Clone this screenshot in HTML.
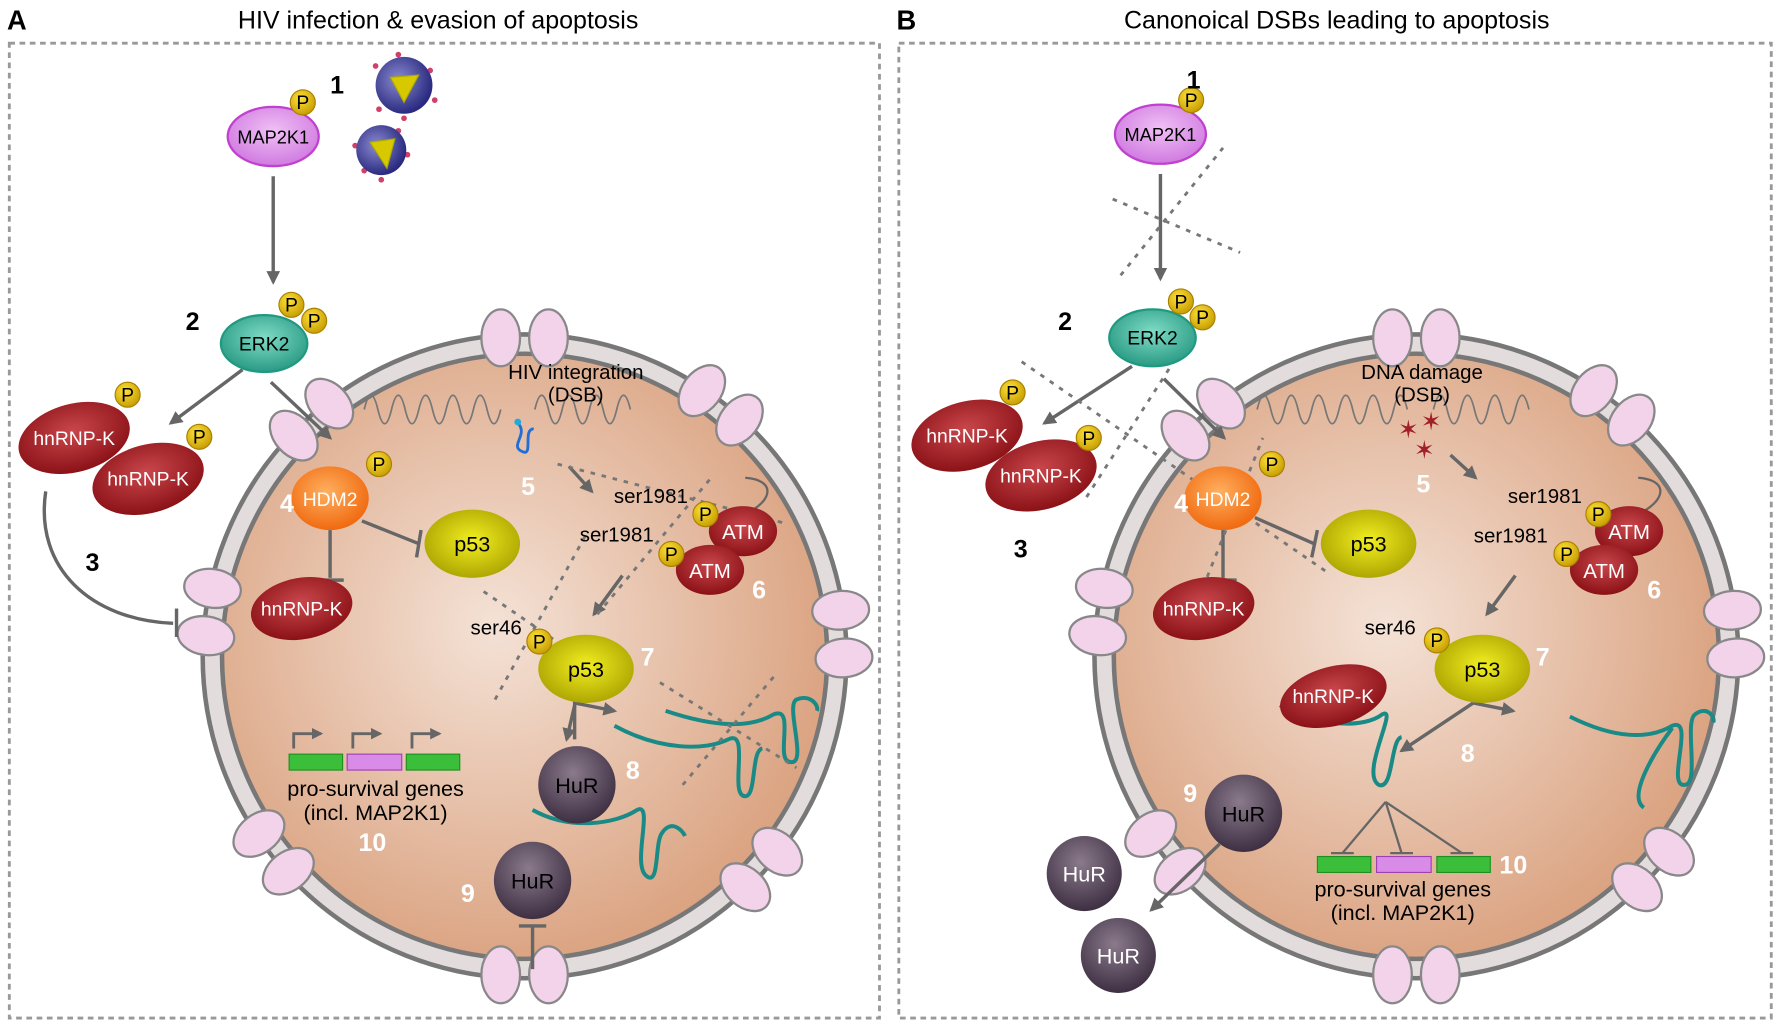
<!DOCTYPE html>
<html><head><meta charset="utf-8"><style>
html,body{margin:0;padding:0;background:#fff}
svg{display:block}
text{font-family:"Liberation Sans",sans-serif}
</style></head><body>
<svg width="1784" height="1026" viewBox="0 0 1568 902" xmlns="http://www.w3.org/2000/svg">
<defs>
<radialGradient id="nuc" cx="0.45" cy="0.45" r="0.6"><stop offset="0" stop-color="#f4e2d6"/><stop offset="1" stop-color="#d99f7c"/></radialGradient>
<radialGradient id="p" cx="0.4" cy="0.35" r="0.7"><stop offset="0" stop-color="#ffe23a"/><stop offset="1" stop-color="#c49a00"/></radialGradient>
<radialGradient id="red" cx="0.5" cy="0.4" r="0.6"><stop offset="0" stop-color="#c9474c"/><stop offset="1" stop-color="#8a1116"/></radialGradient>
<radialGradient id="olive" cx="0.5" cy="0.45" r="0.6"><stop offset="0" stop-color="#f2ef20"/><stop offset="1" stop-color="#a8a000"/></radialGradient>
<radialGradient id="hur" cx="0.45" cy="0.35" r="0.65"><stop offset="0" stop-color="#8a7a8c"/><stop offset="1" stop-color="#3e2f42"/></radialGradient>
<radialGradient id="teal" cx="0.5" cy="0.4" r="0.6"><stop offset="0" stop-color="#7fdcc6"/><stop offset="1" stop-color="#2a9a84"/></radialGradient>
<radialGradient id="vio" cx="0.5" cy="0.4" r="0.6"><stop offset="0" stop-color="#f0c0f5"/><stop offset="1" stop-color="#d07ae0"/></radialGradient>
<radialGradient id="org" cx="0.45" cy="0.4" r="0.6"><stop offset="0" stop-color="#ffb060"/><stop offset="1" stop-color="#f06a10"/></radialGradient>
<radialGradient id="vir" cx="0.4" cy="0.4" r="0.6"><stop offset="0" stop-color="#8a8ad0"/><stop offset="1" stop-color="#2a2a80"/></radialGradient>
<marker id="ar" viewBox="0 0 10 10" refX="8" refY="5" markerWidth="4" markerHeight="4" orient="auto"><path d="M0,0 L10,5 L0,10 z" fill="#666"/></marker>
<g id="pore"><ellipse cx="-21" cy="0" rx="17" ry="25" fill="#f3d3ea" stroke="#888" stroke-width="2"/><ellipse cx="21" cy="0" rx="17" ry="25" fill="#f3d3ea" stroke="#888" stroke-width="2"/></g>
<g id="P"><circle r="11" fill="url(#p)" stroke="#a88000" stroke-width="1"/><text y="6" text-anchor="middle" font-size="17">P</text></g>
</defs>

<text x="6" y="26" font-size="24" font-weight="bold">A</text>
<text x="385" y="25" font-size="22" text-anchor="middle">HIV infection &amp; evasion of apoptosis</text>
<rect x="8" y="38" width="765" height="857" fill="none" stroke="#999" stroke-width="2.5" stroke-dasharray="5,4"/>
<text x="788" y="26" font-size="24" font-weight="bold">B</text>
<text x="1175" y="25" font-size="22" text-anchor="middle">Canonoical DSBs leading to apoptosis</text>
<rect x="790" y="38" width="767" height="857" fill="none" stroke="#999" stroke-width="2.5" stroke-dasharray="5,4"/>

<circle cx="461" cy="577" r="283" fill="#e3dcdc" stroke="#777" stroke-width="4"/>
<circle cx="461" cy="577" r="266" fill="url(#nuc)" stroke="#777" stroke-width="4"/>
<circle cx="1245" cy="577" r="283" fill="#e3dcdc" stroke="#777" stroke-width="4"/>
<circle cx="1245" cy="577" r="266" fill="url(#nuc)" stroke="#777" stroke-width="4"/>

<g transform="translate(461,577)">
<use href="#pore" transform="rotate(0) translate(0,-280)"/>
<use href="#pore" transform="rotate(38) translate(0,-280)"/>
<use href="#pore" transform="rotate(-42) translate(0,-280)"/>
<use href="#pore" transform="rotate(-82) translate(0,-280)"/>
<use href="#pore" transform="rotate(86) translate(0,-280)"/>
<use href="#pore" transform="rotate(132) translate(0,-280)"/>
<use href="#pore" transform="rotate(180) translate(0,-280)"/>
<use href="#pore" transform="rotate(-128) translate(0,-280)"/>
</g>
<g transform="translate(1245,577)">
<use href="#pore" transform="rotate(0) translate(0,-280)"/>
<use href="#pore" transform="rotate(38) translate(0,-280)"/>
<use href="#pore" transform="rotate(-42) translate(0,-280)"/>
<use href="#pore" transform="rotate(-82) translate(0,-280)"/>
<use href="#pore" transform="rotate(86) translate(0,-280)"/>
<use href="#pore" transform="rotate(132) translate(0,-280)"/>
<use href="#pore" transform="rotate(180) translate(0,-280)"/>
<use href="#pore" transform="rotate(-128) translate(0,-280)"/>
</g>

<!-- ===== A ===== -->
<g stroke="#666" stroke-width="3" fill="none">
<line x1="240" y1="155" x2="240" y2="248" marker-end="url(#ar)"/>
<line x1="213" y1="325" x2="150" y2="372" marker-end="url(#ar)"/>
<line x1="238" y1="336" x2="290" y2="385" marker-end="url(#ar)"/>
<path d="M40,432 C30,500 80,545 152,548"/>
<line x1="155" y1="535" x2="155" y2="560"/>
<line x1="318" y1="458" x2="368" y2="478"/>
<line x1="370" y1="466" x2="366" y2="490"/>
<line x1="290" y1="466" x2="290" y2="508"/>
<line x1="278" y1="510" x2="302" y2="510"/>
<line x1="500" y1="410" x2="520" y2="432" marker-end="url(#ar)"/>
<line x1="547" y1="506" x2="522" y2="540" marker-end="url(#ar)"/>
<path d="M612,488 C595,520 640,525 650,495" stroke-width="2" marker-start="url(#ar)"/>
<path d="M655,452 C680,440 682,422 655,420" stroke-width="2" marker-start="url(#ar)"/>
<path d="M505,650 L505,618 L540,625" marker-end="url(#ar)"/>
<path d="M505,620 L498,650" marker-end="url(#ar)"/>
<line x1="468" y1="852" x2="468" y2="814"/>
<line x1="456" y1="814" x2="480" y2="814"/>
</g>
<g stroke="#666" stroke-width="2.5" fill="none">
<path d="M258,658 V645 H282" marker-end="url(#ar)"/>
<path d="M310,658 V645 H334" marker-end="url(#ar)"/>
<path d="M362,658 V645 H386" marker-end="url(#ar)"/>
</g>
<rect x="254" y="663" width="47" height="14" fill="#3bbf3b" stroke="#1f8f1f"/>
<rect x="305" y="663" width="48" height="14" fill="#d98be8" stroke="#a040b0"/>
<rect x="357" y="663" width="47" height="14" fill="#3bbf3b" stroke="#1f8f1f"/>
<text x="330" y="700" font-size="19" text-anchor="middle">pro-survival genes</text>
<text x="330" y="721" font-size="19" text-anchor="middle">(incl. MAP2K1)</text>

<path d="M320,360 q6,-25 12,0 q6,25 12,0 q6,-25 12,0 q6,25 12,0 q6,-25 12,0 q6,25 12,0 q6,-25 12,0 q6,25 12,0 q6,-25 12,0 q6,25 12,0" fill="none" stroke="#777" stroke-width="1.5"/>
<path d="M470,360 q6,-25 12,0 q6,25 12,0 q6,-25 12,0 q6,25 12,0 q6,-25 12,0 q6,25 12,0 q6,-25 12,0" fill="none" stroke="#777" stroke-width="1.5"/>
<path d="M455,372 c10,10 -8,20 4,25 c10,5 0,-20 10,-20" fill="none" stroke="#1f6fd6" stroke-width="2.5"/>
<circle cx="455" cy="371" r="3" fill="#2ad"/>
<text x="506" y="333" font-size="18" text-anchor="middle">HIV integration</text>
<text x="506" y="353" font-size="18" text-anchor="middle">(DSB)</text>

<g stroke="#1a8a86" stroke-width="3.5" fill="none">
<path d="M468,712 C500,730 540,725 560,712 C575,705 555,760 568,770 C580,780 575,740 582,732 C590,720 600,730 602,735"/>
<path d="M585,625 C630,640 660,640 680,628 C700,620 680,670 695,670 C710,672 690,620 700,615 C712,610 720,620 718,625"/>
<path d="M540,638 C580,660 620,660 640,650 C660,640 640,700 655,700 C665,700 660,660 670,658"/>
</g>

<g stroke="#777" stroke-width="2.5" stroke-dasharray="4,6" fill="none">
<line x1="490" y1="408" x2="690" y2="460"/>
<line x1="525" y1="540" x2="625" y2="420"/>
<line x1="425" y1="520" x2="530" y2="592"/>
<line x1="435" y1="615" x2="515" y2="470"/>
<line x1="580" y1="600" x2="700" y2="675"/>
<line x1="600" y1="690" x2="680" y2="595"/>
</g>

<g fill="#d0406a">
<circle cx="330" cy="58" r="2.5"/><circle cx="378" cy="62" r="2.5"/><circle cx="382" cy="88" r="2.5"/><circle cx="355" cy="104" r="2.5"/><circle cx="333" cy="96" r="2.5"/><circle cx="350" cy="48" r="2.5"/>
<circle cx="312" cy="128" r="2.5"/><circle cx="358" cy="136" r="2.5"/><circle cx="335" cy="158" r="2.5"/><circle cx="320" cy="150" r="2.5"/><circle cx="350" cy="115" r="2.5"/>
</g>
<circle cx="355" cy="75" r="25" fill="url(#vir)"/><path d="M343,68 L368,66 L355,90 z" fill="#d8c800" stroke="#aa0" />
<circle cx="335" cy="132" r="22" fill="url(#vir)"/><path d="M325,125 L347,122 L340,148 z" fill="#d8c800" stroke="#aa0"/>
<text x="290" y="82" font-size="22" font-weight="bold">1</text>
<ellipse cx="240" cy="120" rx="40" ry="26" fill="url(#vio)" stroke="#c040d0" stroke-width="2"/>
<text x="240" y="126" font-size="16" text-anchor="middle">MAP2K1</text>
<use href="#P" x="266" y="90"/>
<text x="163" y="290" font-size="22" font-weight="bold">2</text>
<ellipse cx="232" cy="302" rx="38" ry="25" fill="url(#teal)" stroke="#1f9a80" stroke-width="2"/>
<text x="232" y="308" font-size="17" text-anchor="middle">ERK2</text>
<use href="#P" x="256" y="268"/><use href="#P" x="276" y="282"/>
<ellipse cx="65" cy="385" rx="50" ry="30" transform="rotate(-15 65 385)" fill="url(#red)"/>
<text x="65" y="391" font-size="17" fill="#fff" text-anchor="middle">hnRNP-K</text>
<use href="#P" x="112" y="347"/>
<ellipse cx="130" cy="421" rx="50" ry="30" transform="rotate(-15 130 421)" fill="url(#red)"/>
<text x="130" y="427" font-size="17" fill="#fff" text-anchor="middle">hnRNP-K</text>
<use href="#P" x="175" y="384"/>
<text x="75" y="502" font-size="22" font-weight="bold">3</text>
<ellipse cx="290" cy="438" rx="34" ry="28" fill="url(#org)"/>
<text x="290" y="445" font-size="17" fill="#fff" text-anchor="middle">HDM2</text>
<use href="#P" x="333" y="408"/>
<text x="246" y="450" font-size="22" font-weight="bold" fill="#fff">4</text>
<ellipse cx="415" cy="478" rx="42" ry="30" fill="url(#olive)"/>
<text x="415" y="485" font-size="19" text-anchor="middle">p53</text>
<ellipse cx="265" cy="535" rx="45" ry="27" transform="rotate(-10 265 535)" fill="url(#red)"/>
<text x="265" y="541" font-size="17" fill="#fff" text-anchor="middle">hnRNP-K</text>
<text x="458" y="435" font-size="22" font-weight="bold" fill="#fff">5</text>
<text x="572" y="442" font-size="18" text-anchor="middle">ser1981</text>
<text x="542" y="476" font-size="18" text-anchor="middle">ser1981</text>
<ellipse cx="653" cy="467" rx="30" ry="22" fill="url(#red)"/>
<text x="653" y="474" font-size="18" fill="#fff" text-anchor="middle">ATM</text>
<ellipse cx="624" cy="501" rx="30" ry="22" fill="url(#red)"/>
<text x="624" y="508" font-size="18" fill="#fff" text-anchor="middle">ATM</text>
<use href="#P" x="620" y="452"/><use href="#P" x="590" y="487"/>
<text x="661" y="526" font-size="22" font-weight="bold" fill="#fff">6</text>
<text x="436" y="558" font-size="18" text-anchor="middle">ser46</text>
<ellipse cx="515" cy="588" rx="42" ry="30" fill="url(#olive)"/>
<text x="515" y="595" font-size="19" text-anchor="middle">p53</text>
<use href="#P" x="474" y="564"/>
<text x="563" y="585" font-size="22" font-weight="bold" fill="#fff">7</text>
<circle cx="507" cy="690" r="34" fill="url(#hur)"/>
<text x="507" y="697" font-size="19" text-anchor="middle">HuR</text>
<text x="550" y="685" font-size="22" font-weight="bold" fill="#fff">8</text>
<circle cx="468" cy="774" r="34" fill="url(#hur)"/>
<text x="468" y="781" font-size="19" text-anchor="middle">HuR</text>
<text x="405" y="793" font-size="22" font-weight="bold" fill="#fff">9</text>
<text x="315" y="748" font-size="22" font-weight="bold" fill="#fff">10</text>

<!-- ===== B ===== -->
<g stroke="#666" stroke-width="3" fill="none">
<line x1="1020" y1="153" x2="1020" y2="245" marker-end="url(#ar)"/>
<line x1="995" y1="322" x2="918" y2="372" marker-end="url(#ar)"/>
<line x1="1023" y1="333" x2="1076" y2="385" marker-end="url(#ar)"/>
<line x1="1103" y1="455" x2="1155" y2="478"/>
<line x1="1158" y1="466" x2="1153" y2="490"/>
<line x1="1075" y1="466" x2="1075" y2="508"/>
<line x1="1063" y1="510" x2="1087" y2="510"/>
<line x1="1275" y1="400" x2="1297" y2="420" marker-end="url(#ar)"/>
<line x1="1332" y1="506" x2="1307" y2="540" marker-end="url(#ar)"/>
<path d="M1398,488 C1380,520 1425,525 1435,495" stroke-width="2" marker-start="url(#ar)"/>
<path d="M1440,452 C1465,440 1467,422 1440,420" stroke-width="2" marker-start="url(#ar)"/>
<path d="M1295,618 L1232,660" marker-end="url(#ar)"/>
<path d="M1295,618 L1330,625" marker-end="url(#ar)"/>
<line x1="1072" y1="742" x2="1012" y2="800" marker-end="url(#ar)"/>
<path d="M1218,705 L1180,750 M1218,705 L1232,750 M1218,705 L1285,750" stroke-width="2"/>
<path d="M1170,750 H1190 M1222,750 H1242 M1275,750 H1295" stroke-width="2"/>
</g>
<rect x="1158" y="753" width="47" height="14" fill="#3bbf3b" stroke="#1f8f1f"/>
<rect x="1210" y="753" width="48" height="14" fill="#d98be8" stroke="#a040b0"/>
<rect x="1263" y="753" width="47" height="14" fill="#3bbf3b" stroke="#1f8f1f"/>
<text x="1233" y="788" font-size="19" text-anchor="middle">pro-survival genes</text>
<text x="1233" y="809" font-size="19" text-anchor="middle">(incl. MAP2K1)</text>
<text x="1318" y="768" font-size="22" font-weight="bold" fill="#fff">10</text>

<path d="M1105,360 q6,-25 12,0 q6,25 12,0 q6,-25 12,0 q6,25 12,0 q6,-25 12,0 q6,25 12,0 q6,-25 12,0 q6,25 12,0 q6,-25 12,0 q6,25 12,0 q6,-25 12,0" fill="none" stroke="#777" stroke-width="1.5"/>
<path d="M1260,360 q6,-25 12,0 q6,25 12,0 q6,-25 12,0 q6,25 12,0 q6,-25 12,0 q6,25 12,0 q6,-25 12,0" fill="none" stroke="#777" stroke-width="1.5"/>
<g fill="#a0202a" font-size="22" text-anchor="middle"><text x="1238" y="385">✶</text><text x="1258" y="378">✶</text><text x="1252" y="403">✶</text></g>
<text x="1250" y="333" font-size="18" text-anchor="middle">DNA damage</text>
<text x="1250" y="353" font-size="18" text-anchor="middle">(DSB)</text>

<g stroke="#1a8a86" stroke-width="3.5" fill="none">
<path d="M1380,630 C1420,650 1450,650 1470,638 C1490,630 1465,690 1480,690 C1495,692 1480,635 1490,628 C1500,620 1508,630 1506,635 M1470,640 C1455,660 1430,700 1445,710"/>
<path d="M1125,620 C1160,640 1200,640 1215,628 C1230,620 1195,680 1212,690 C1225,695 1222,650 1232,648"/>
</g>

<g stroke="#777" stroke-width="2.5" stroke-dasharray="4,6" fill="none">
<line x1="978" y1="175" x2="1090" y2="222"/>
<line x1="985" y1="242" x2="1075" y2="130"/>
<line x1="898" y1="318" x2="1165" y2="502"/>
<line x1="955" y1="437" x2="1040" y2="305"/>
<line x1="1050" y1="535" x2="1110" y2="385"/>
</g>

<ellipse cx="1020" cy="118" rx="40" ry="26" fill="url(#vio)" stroke="#c040d0" stroke-width="2"/>
<text x="1020" y="124" font-size="16" text-anchor="middle">MAP2K1</text>
<use href="#P" x="1047" y="88"/>
<text x="1043" y="78" font-size="22" font-weight="bold">1</text>
<text x="930" y="290" font-size="22" font-weight="bold">2</text>
<ellipse cx="1013" cy="297" rx="38" ry="25" fill="url(#teal)" stroke="#1f9a80" stroke-width="2"/>
<text x="1013" y="303" font-size="17" text-anchor="middle">ERK2</text>
<use href="#P" x="1038" y="265"/><use href="#P" x="1057" y="279"/>
<ellipse cx="850" cy="383" rx="50" ry="30" transform="rotate(-15 850 383)" fill="url(#red)"/>
<text x="850" y="389" font-size="17" fill="#fff" text-anchor="middle">hnRNP-K</text>
<use href="#P" x="890" y="345"/>
<ellipse cx="915" cy="418" rx="50" ry="30" transform="rotate(-15 915 418)" fill="url(#red)"/>
<text x="915" y="424" font-size="17" fill="#fff" text-anchor="middle">hnRNP-K</text>
<use href="#P" x="957" y="385"/>
<text x="891" y="490" font-size="22" font-weight="bold">3</text>
<ellipse cx="1075" cy="438" rx="34" ry="28" fill="url(#org)"/>
<text x="1075" y="445" font-size="17" fill="#fff" text-anchor="middle">HDM2</text>
<use href="#P" x="1118" y="408"/>
<text x="1032" y="450" font-size="22" font-weight="bold" fill="#fff">4</text>
<ellipse cx="1203" cy="478" rx="42" ry="30" fill="url(#olive)"/>
<text x="1203" y="485" font-size="19" text-anchor="middle">p53</text>
<ellipse cx="1058" cy="535" rx="45" ry="27" transform="rotate(-10 1058 535)" fill="url(#red)"/>
<text x="1058" y="541" font-size="17" fill="#fff" text-anchor="middle">hnRNP-K</text>
<text x="1245" y="433" font-size="22" font-weight="bold" fill="#fff">5</text>
<text x="1358" y="442" font-size="18" text-anchor="middle">ser1981</text>
<text x="1328" y="477" font-size="18" text-anchor="middle">ser1981</text>
<ellipse cx="1432" cy="467" rx="30" ry="22" fill="url(#red)"/>
<text x="1432" y="474" font-size="18" fill="#fff" text-anchor="middle">ATM</text>
<ellipse cx="1410" cy="501" rx="30" ry="22" fill="url(#red)"/>
<text x="1410" y="508" font-size="18" fill="#fff" text-anchor="middle">ATM</text>
<use href="#P" x="1405" y="452"/><use href="#P" x="1377" y="487"/>
<text x="1448" y="526" font-size="22" font-weight="bold" fill="#fff">6</text>
<text x="1222" y="558" font-size="18" text-anchor="middle">ser46</text>
<ellipse cx="1303" cy="588" rx="42" ry="30" fill="url(#olive)"/>
<text x="1303" y="595" font-size="19" text-anchor="middle">p53</text>
<use href="#P" x="1263" y="563"/>
<text x="1350" y="585" font-size="22" font-weight="bold" fill="#fff">7</text>
<ellipse cx="1172" cy="612" rx="48" ry="26" transform="rotate(-15 1172 612)" fill="url(#red)"/>
<text x="1172" y="618" font-size="17" fill="#fff" text-anchor="middle">hnRNP-K</text>
<text x="1284" y="670" font-size="22" font-weight="bold" fill="#fff">8</text>
<circle cx="1093" cy="715" r="34" fill="url(#hur)"/>
<text x="1093" y="722" font-size="19" text-anchor="middle">HuR</text>
<text x="1040" y="705" font-size="22" font-weight="bold" fill="#fff">9</text>
<circle cx="953" cy="768" r="33" fill="url(#hur)"/>
<text x="953" y="775" font-size="19" text-anchor="middle" fill="#fff">HuR</text>
<circle cx="983" cy="840" r="33" fill="url(#hur)"/>
<text x="983" y="847" font-size="19" text-anchor="middle" fill="#fff">HuR</text>
</svg>
</body></html>
